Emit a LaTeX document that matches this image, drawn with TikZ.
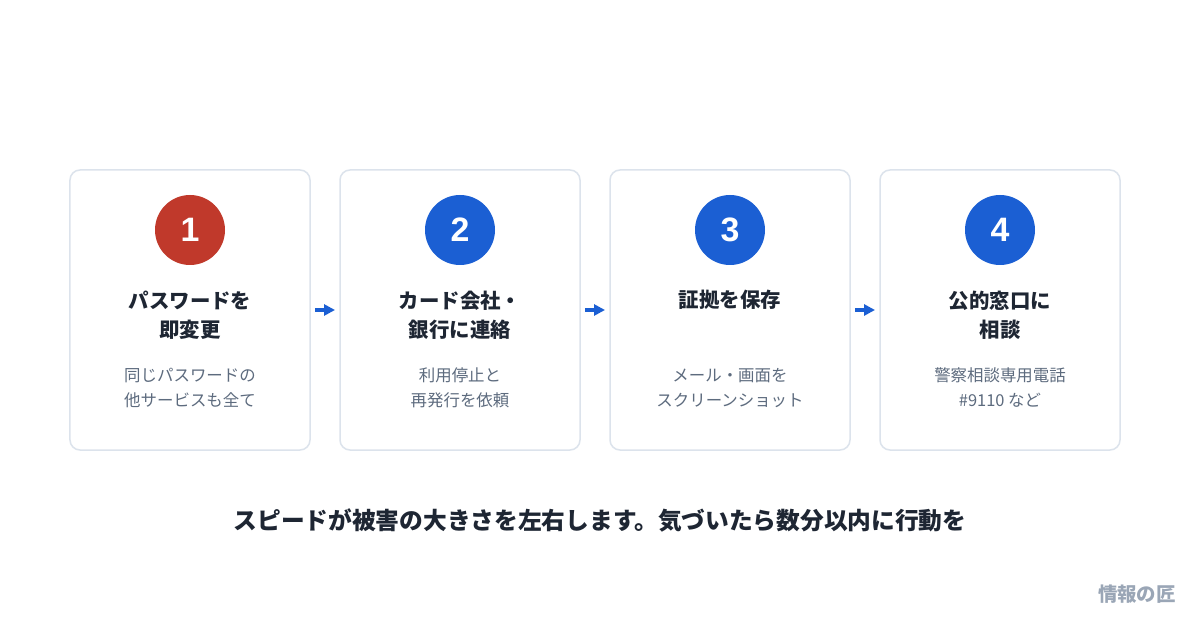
\documentclass[tikz,border=0pt]{standalone}
\usepackage{fontspec}
\setmainfont{Noto Sans CJK JP}
\newfontfamily\digitfont{Liberation Sans}
\usetikzlibrary{arrows.meta}
\definecolor{cardline}{HTML}{DCE3EC}
\definecolor{redc}{HTML}{C0392B}
\definecolor{bluec}{HTML}{1B5FD3}
\definecolor{titlec}{HTML}{1E2633}
\definecolor{subc}{HTML}{5D6B7E}
\definecolor{markc}{HTML}{9AA6B6}
\tikzset{
  card/.style={draw=cardline, line width=1.5bp, rounded corners=10bp, fill=white, minimum width=240bp, minimum height=280bp, inner sep=0pt},
  numcirc/.style={circle, minimum size=70bp, inner sep=0pt, text=white, font=\digitfont\fontsize{34}{34}\selectfont\bfseries},
  titletext/.style={anchor=base, align=center, text=titlec, font=\fontsize{20.5}{30}\selectfont\bfseries, inner sep=0pt},
  subtext/.style={anchor=base, align=center, text=subc, font=\fontsize{16.5}{25}\selectfont, inner sep=0pt},
  flow/.style={draw=bluec, line width=3.5bp, -{Triangle[length=11bp,width=11bp]}},
}
\begin{document}
\begin{tikzpicture}[x=1bp,y=-1bp]
\useasboundingbox (0,0) rectangle (1200,620);
\fill[white] (0,0) rectangle (1200,620);
% cards
\node[card] (c1) at (190,310) {};
\node[card] (c2) at (460,310) {};
\node[card] (c3) at (730,310) {};
\node[card] (c4) at (1000,310) {};
% circles
\node[numcirc, fill=redc] (n1) at (190,230) {1};
\node[numcirc, fill=bluec] (n2) at (460,230) {2};
\node[numcirc, fill=bluec] (n3) at (730,230) {3};
\node[numcirc, fill=bluec] (n4) at (1000,230) {4};
% titles (base anchor = last line baseline)
\node[titletext] (t1) at (190,338) {パスワードを\\即変更};
\node[titletext] (t2) at (460,338) {カード会社・\\銀行に連絡};
\node[titletext] (t3) at (730,308) {証拠を保存};
\node[titletext] (t4) at (1000,338) {公的窓口に\\相談};
% subtexts
\node[subtext] (s1) at (190,406) {同じパスワードの\\他サービスも全て};
\node[subtext] (s2) at (460,406) {利用停止と\\再発行を依頼};
\node[subtext] (s3) at (730,406) {メール・画面を\\スクリーンショット};
\node[subtext] (s4) at (1000,406) {警察相談専用電話\\\#9110 など};
% arrows
\coordinate (a1s) at (315,310); \coordinate (a1e) at (335,310);
\coordinate (a2s) at (585,310); \coordinate (a2e) at (605,310);
\coordinate (a3s) at (855,310); \coordinate (a3e) at (875,310);
\draw[flow] (a1s) -- (a1e);
\draw[flow] (a2s) -- (a2e);
\draw[flow] (a3s) -- (a3e);
% bottom text
\node[anchor=base, text=titlec, font=\fontsize{23.8}{23.8}\selectfont\bfseries, inner sep=0pt] (bottom) at (600,529) {スピードが被害の大きさを左右します。気づいたら数分以内に行動を};
% watermark
\node[anchor=base east, text=markc, font=\fontsize{19.5}{19.5}\selectfont\bfseries, inner sep=0pt] (mark) at (1176,601) {情報の匠};
\end{tikzpicture}
\end{document}
